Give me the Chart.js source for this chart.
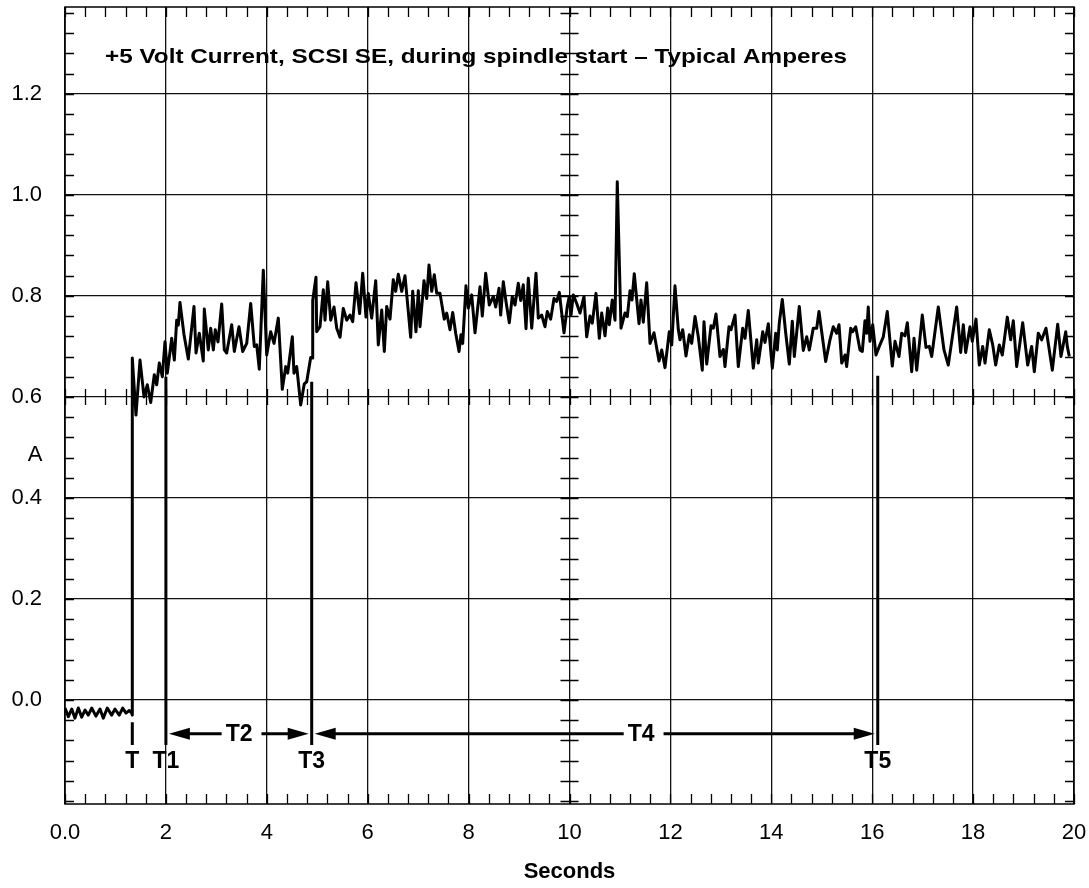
<!DOCTYPE html>
<html>
<head>
<meta charset="utf-8">
<script src="https://cdn.jsdelivr.net/npm/chart.js@4.4.1/dist/chart.umd.min.js"></script>
<style>
  html, body { margin: 0; padding: 0; background: #fff; }
</style>
</head>
<body>
<canvas id="chart" width="1089" height="888"></canvas>
<script>
// +5 V current trace (seconds, amperes)
const times = [
  0, 0.066, 0.133, 0.198, 0.264, 0.331, 0.397, 0.462, 0.529, 0.614, 0.694, 0.759, 0.838, 0.925, 0.991, 1.076, 1.143, 1.209, 1.275, 1.322, 1.334, 1.334,
  1.407, 1.487, 1.566, 1.631, 1.699, 1.770, 1.818, 1.869, 1.929, 1.982, 2.028, 2.115, 2.167, 2.214, 2.246, 2.279, 2.359, 2.444, 2.557, 2.597,
  2.662, 2.741, 2.761, 2.840, 2.888, 2.940, 2.979, 3.033, 3.106, 3.158, 3.205, 3.304, 3.356, 3.449, 3.522, 3.602, 3.681, 3.752, 3.800, 3.851,
  3.931, 3.998, 4.077, 4.143, 4.228, 4.307, 4.375, 4.414, 4.506, 4.539, 4.593, 4.672, 4.743, 4.791, 4.870, 4.896, 4.910, 4.975, 4.989, 5.055,
  5.120, 5.154, 5.207, 5.267, 5.332, 5.386, 5.451, 5.516, 5.584, 5.649, 5.703, 5.768, 5.840,
  5.901, 5.966, 6.012, 6.079, 6.159, 6.210, 6.278, 6.329, 6.377, 6.442, 6.507, 6.555, 6.607, 6.674, 6.739, 6.852, 6.892, 6.957, 7.003, 7.037,
  7.116, 7.170, 7.215, 7.269, 7.320, 7.368, 7.433, 7.518, 7.566, 7.631, 7.685, 7.744, 7.810, 7.849, 7.883, 7.948, 7.994, 8.061, 8.127, 8.226,
  8.272, 8.339, 8.410, 8.490, 8.537, 8.603, 8.636, 8.688, 8.741, 8.807, 8.866, 8.920, 8.985, 9.033, 9.084, 9.138, 9.183, 9.251, 9.336, 9.382,
  9.449, 9.514, 9.560, 9.627, 9.693, 9.746, 9.798,
  9.891, 9.956, 9.996, 10.030, 10.075, 10.143, 10.208, 10.287, 10.341, 10.406, 10.452, 10.525, 10.591, 10.638, 10.704, 10.757, 10.789, 10.848, 10.902, 10.947,
  11.021, 11.100, 11.146, 11.199, 11.239, 11.284, 11.378, 11.417, 11.463, 11.530, 11.596, 11.675, 11.774, 11.828, 11.893, 11.978, 12.026, 12.091, 12.157, 12.190,
  12.244, 12.309, 12.375, 12.422, 12.488, 12.553, 12.632, 12.666, 12.720, 12.805, 12.850, 12.904, 12.983, 13.049, 13.082, 13.162, 13.201, 13.281, 13.346, 13.433,
  13.479, 13.544, 13.643, 13.711, 13.742, 13.830, 13.875, 13.941, 14.020, 14.087, 14.119, 14.158, 14.218, 14.285, 14.357, 14.416, 14.456, 14.555, 14.634, 14.702,
  14.753, 14.832, 14.900, 14.945, 15.078, 15.163, 15.229, 15.296, 15.342,
  15.396, 15.461, 15.494, 15.574, 15.613, 15.673, 15.758, 15.804, 15.857, 15.891, 15.922, 15.956, 16.010, 16.075, 16.141, 16.220, 16.299, 16.398, 16.452, 16.531,
  16.585, 16.650, 16.696, 16.783, 16.829, 16.882, 16.993, 17.066, 17.132, 17.179, 17.310, 17.423, 17.508, 17.675, 17.754, 17.806, 17.853, 17.939, 17.984, 18.057,
  18.123, 18.190, 18.236, 18.321, 18.389, 18.448, 18.519, 18.579, 18.678, 18.745, 18.797, 18.864, 18.983, 19.082, 19.161, 19.213, 19.292, 19.359, 19.445, 19.570,
  19.677, 19.742, 19.836, 19.867, 19.907
];
const amps = [
  -0.016, -0.033, -0.018, -0.036, -0.016, -0.034, -0.020, -0.030, -0.016, -0.032, -0.018, -0.036, -0.016, -0.030, -0.018, -0.030, -0.016, -0.026, -0.021, -0.026, -0.030, 0.677,
  0.564, 0.673, 0.600, 0.624, 0.589, 0.644, 0.624, 0.667, 0.640, 0.709, 0.647, 0.716, 0.673, 0.752, 0.742, 0.787, 0.723, 0.675, 0.779, 0.687,
  0.726, 0.671, 0.774, 0.693, 0.736, 0.693, 0.733, 0.709, 0.784, 0.693, 0.687, 0.743, 0.690, 0.739, 0.690, 0.706, 0.785, 0.700, 0.703, 0.655,
  0.851, 0.683, 0.729, 0.706, 0.756, 0.615, 0.660, 0.647, 0.719, 0.647, 0.660, 0.584, 0.626, 0.630, 0.678, 0.677, 0.791, 0.837, 0.729, 0.739,
  0.812, 0.752, 0.828, 0.752, 0.778, 0.736, 0.718, 0.775, 0.752, 0.762, 0.749, 0.826, 0.765,
  0.845, 0.758, 0.805, 0.756, 0.830, 0.703, 0.772, 0.690, 0.779, 0.754, 0.832, 0.809, 0.843, 0.809, 0.840, 0.718, 0.809, 0.729, 0.810, 0.739,
  0.830, 0.795, 0.861, 0.809, 0.842, 0.805, 0.805, 0.754, 0.766, 0.733, 0.767, 0.726, 0.690, 0.723, 0.706, 0.820, 0.776, 0.802, 0.727, 0.818,
  0.760, 0.845, 0.782, 0.799, 0.778, 0.815, 0.762, 0.828, 0.789, 0.747, 0.799, 0.782, 0.825, 0.791, 0.822, 0.735, 0.835, 0.736, 0.845, 0.756,
  0.762, 0.739, 0.769, 0.754, 0.795, 0.789, 0.807,
  0.727, 0.779, 0.799, 0.762, 0.802, 0.785, 0.766, 0.799, 0.719, 0.760, 0.746, 0.805, 0.716, 0.766, 0.721, 0.776, 0.743, 0.792, 0.752, 1.026,
  0.736, 0.766, 0.759, 0.810, 0.792, 0.844, 0.745, 0.792, 0.748, 0.826, 0.706, 0.727, 0.671, 0.693, 0.658, 0.729, 0.703, 0.820, 0.733, 0.713,
  0.733, 0.681, 0.723, 0.706, 0.759, 0.719, 0.653, 0.749, 0.665, 0.741, 0.736, 0.764, 0.680, 0.694, 0.660, 0.739, 0.733, 0.762, 0.660, 0.736,
  0.716, 0.771, 0.657, 0.713, 0.667, 0.729, 0.708, 0.745, 0.657, 0.726, 0.693, 0.746, 0.793, 0.727, 0.665, 0.750, 0.680, 0.779, 0.692, 0.719,
  0.693, 0.736, 0.736, 0.769, 0.670, 0.713, 0.739, 0.726, 0.743,
  0.667, 0.683, 0.660, 0.736, 0.729, 0.739, 0.693, 0.690, 0.751, 0.726, 0.778, 0.710, 0.743, 0.683, 0.700, 0.719, 0.769, 0.661, 0.710, 0.680,
  0.726, 0.721, 0.747, 0.650, 0.716, 0.653, 0.762, 0.698, 0.700, 0.680, 0.778, 0.693, 0.663, 0.778, 0.688, 0.743, 0.688, 0.739, 0.710, 0.754,
  0.663, 0.700, 0.667, 0.733, 0.703, 0.663, 0.703, 0.683, 0.758, 0.713, 0.751, 0.660, 0.747, 0.663, 0.700, 0.650, 0.726, 0.713, 0.736, 0.653,
  0.744, 0.680, 0.729, 0.700, 0.680
];

// timing markers
const markerNames = ['T', 'T1', 'T3', 'T5'];
const markerTimes = [1.334, 2.0, 4.89, 16.11];
const markerTops = [-0.044, 0.640, 0.630, 0.642];
const markerBottoms = [-0.089, -0.089, -0.089, -0.089];
const markerLabelY = -0.123;

// spans between markers (arrows)
const spanNames = ['T2', 'T4'];
const spanStarts = [2.0, 4.89];
const spanEnds = [4.89, 16.11];
const spanLabelAt = [3.45, 11.42];
const spanY = -0.067;

const xTickValues = [0, 2, 4, 6, 8, 10, 12, 14, 16, 18, 20];
const yTickValues = [0, 0.2, 0.4, 0.6, 0.8, 1.0, 1.2];
const minorStepX = 0.4;
const minorStepY = 0.04;
const crossX = 10;
const crossY = 0.6;

const chartTitle = '+5 Volt Current, SCSI SE, during spindle start \u2013 Typical Amperes';
const FONT = '"Liberation Sans", Arial, Helvetica, sans-serif';

function arrowHead(ctx, px, py, dir) {
  ctx.beginPath();
  ctx.moveTo(px, py);
  ctx.lineTo(px - dir * 21, py - 6);
  ctx.lineTo(px - dir * 21, py + 6);
  ctx.closePath();
  ctx.fill();
}

const decorPlugin = {
  id: 'decor',
  afterDatasetsDraw(chart) {
    const { ctx, chartArea: a, scales: { x, y } } = chart;
    ctx.save();
    ctx.strokeStyle = '#000';
    ctx.fillStyle = '#000';

    // frame
    ctx.lineWidth = 1.5;
    ctx.strokeRect(a.left, a.top, a.right - a.left, a.bottom - a.top);

    // minor ticks on the edges and across the centre axes
    ctx.lineWidth = 1.3;
    ctx.beginPath();
    const cy = y.getPixelForValue(crossY);
    const cx = x.getPixelForValue(crossX);
    for (let k = 0; k * minorStepX <= x.max + 1e-9; k++) {
      const px = Math.round(x.getPixelForValue(k * minorStepX)) + 0.5;
      ctx.moveTo(px, a.top); ctx.lineTo(px, a.top + 10);
      ctx.moveTo(px, a.bottom); ctx.lineTo(px, a.bottom - 10);
      ctx.moveTo(px, cy - 8); ctx.lineTo(px, cy + 8);
    }
    for (let k = Math.ceil(y.min / minorStepY); k * minorStepY <= y.max; k++) {
      const py = Math.round(y.getPixelForValue(k * minorStepY)) + 0.5;
      ctx.moveTo(a.left, py); ctx.lineTo(a.left + 9, py);
      ctx.moveTo(a.right, py); ctx.lineTo(a.right - 9, py);
      ctx.moveTo(cx - 9, py); ctx.lineTo(cx + 9, py);
    }
    ctx.stroke();

    // arrows for T2 / T4
    ctx.font = 'bold 23px ' + FONT;
    ctx.textAlign = 'center';
    ctx.textBaseline = 'middle';
    const ay = y.getPixelForValue(spanY);
    ctx.lineWidth = 3;
    spanNames.forEach((name, i) => {
      const x0 = x.getPixelForValue(spanStarts[i]) + 3;
      const x1 = x.getPixelForValue(spanEnds[i]) - 3;
      const lx = x.getPixelForValue(spanLabelAt[i]);
      const w = ctx.measureText(name).width;
      ctx.beginPath();
      ctx.moveTo(x0 + 10, ay); ctx.lineTo(lx - w / 2 - 4, ay);
      ctx.moveTo(lx + w / 2 + 9, ay); ctx.lineTo(x1 - 10, ay);
      ctx.stroke();
      arrowHead(ctx, x0, ay, -1);
      arrowHead(ctx, x1, ay, 1);
      ctx.fillText(name, lx, ay + 1);
    });

    // marker labels
    const ly = y.getPixelForValue(markerLabelY);
    markerNames.forEach((name, i) => {
      ctx.fillText(name, x.getPixelForValue(markerTimes[i]), ly);
    });

    // title inside the plot, stretched like the original print
    ctx.font = 'bold 21px ' + FONT;
    ctx.textAlign = 'left';
    const tw = ctx.measureText(chartTitle).width;
    ctx.save();
    ctx.translate(a.left + 40, a.top + 50);
    ctx.scale(742 / tw, 1);
    ctx.fillText(chartTitle, 0, 0);
    ctx.restore();

    // unit label on the y axis
    ctx.font = '22px ' + FONT;
    ctx.textAlign = 'center';
    ctx.fillText('A', 35, y.getPixelForValue(0.485));

    ctx.restore();
  }
};

const datasets = [{
  data: times.map((t, i) => ({ x: t, y: amps[i] })),
  borderColor: '#000',
  borderWidth: 3,
  borderJoinStyle: 'round',
  pointRadius: 0,
  tension: 0
}];
markerNames.forEach((name, i) => {
  datasets.push({
    label: name,
    data: [{ x: markerTimes[i], y: markerTops[i] }, { x: markerTimes[i], y: markerBottoms[i] }],
    borderColor: '#000',
    borderWidth: 3,
    pointRadius: 0
  });
});

new Chart(document.getElementById('chart'), {
  type: 'line',
  data: { datasets: datasets },
  options: {
    responsive: false,
    animation: false,
    devicePixelRatio: 1,
    layout: { padding: { top: 7, right: 15, left: 0, bottom: 0 } },
    plugins: { legend: { display: false }, tooltip: { enabled: false } },
    scales: {
      x: {
        type: 'linear',
        min: 0,
        max: 20,
        afterBuildTicks: s => { s.ticks = xTickValues.map(v => ({ value: v })); },
        afterFit: s => { s.height = 84; s.paddingLeft = 0; s.paddingRight = 0; },
        ticks: {
          color: '#000',
          padding: 16,
          maxRotation: 0,
          font: { family: FONT, size: 22 },
          callback: v => (v === 0 ? '0.0' : String(v))
        },
        grid: { color: '#111', lineWidth: 1.3, drawTicks: false },
        border: { display: false },
        title: {
          display: true,
          text: 'Seconds',
          color: '#000',
          font: { family: FONT, size: 22, weight: 'bold' },
          padding: { top: 0, bottom: 3 }
        }
      },
      y: {
        min: -0.206,
        max: 1.372,
        afterBuildTicks: s => { s.ticks = yTickValues.map(v => ({ value: v })); },
        afterFit: s => { s.width = 65; s.paddingTop = 0; s.paddingBottom = 0; },
        ticks: {
          color: '#000',
          padding: 23,
          font: { family: FONT, size: 22 },
          callback: v => v.toFixed(1)
        },
        grid: { color: '#111', lineWidth: 1.3, drawTicks: false },
        border: { display: false }
      }
    }
  },
  plugins: [decorPlugin]
});
</script>
</body>
</html>
